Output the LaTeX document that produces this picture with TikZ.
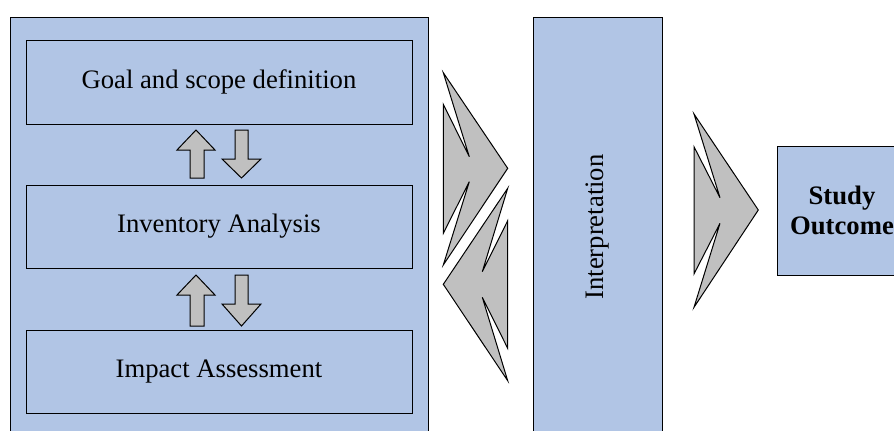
\documentclass[tikz,border=0pt]{standalone}
\usepackage{fontspec}
\setmainfont{Liberation Serif}
\definecolor{boxblue}{RGB}{177,197,229}
\definecolor{arrgrey}{RGB}{192,192,192}
\begin{document}
\begin{tikzpicture}[x=0.75pt,y=-0.75pt,line width=0.75pt,
  box/.style={draw=black,fill=boxblue,inner sep=0pt,
    font=\fontsize{20}{22.5}\selectfont},
  arr/.style={draw=black,fill=arrgrey,line join=miter},
  chev/.style={draw=black,fill=arrgrey,line join=miter}]
\useasboundingbox (0,0) rectangle (894,430);
\begin{scope}
\clip (0,0) rectangle (894,430);
% outer LCA frame
\node[box,minimum width=313.5pt,minimum height=315pt] (lca) at (219,227) {};
\node[box,minimum width=289.5pt,minimum height=63pt] (goal) at (219,82) {Goal and scope definition};
\node[box,minimum width=289.5pt,minimum height=62.25pt] (inv) at (219,226.5) {Inventory Analysis};
\node[box,minimum width=289.5pt,minimum height=62.25pt] (imp) at (219,371.5) {Impact Assessment};
% interpretation
\node[box,minimum width=96.4pt,minimum height=315pt] (interp) at (597.75,227) {};
\node[font=\fontsize{20}{22.5}\selectfont,rotate=90,inner sep=0pt] (interptext) at (interp.center) {Interpretation};
% study outcome
\node[box,minimum width=97.5pt,minimum height=96.75pt,align=center,
  font=\fontsize{20}{22.5}\selectfont\bfseries] (out) at (842,210.5) {Study\\Outcome};
% up/down arrows between goal and inventory
\draw[arr] (196,130) -- (215,150) -- (204,150) -- (204,178) -- (190,178) -- (190,150) -- (177,150) -- cycle;
\draw[arr] (235,130) -- (248,130) -- (248,159) -- (261,159) -- (241.5,178) -- (222,159) -- (235,159) -- cycle;
% up/down arrows between inventory and impact
\draw[arr] (196,275) -- (215,295) -- (204,295) -- (204,326) -- (190,326) -- (190,295) -- (177,295) -- cycle;
\draw[arr] (235,275) -- (248,275) -- (248,304) -- (261,304) -- (241.5,326) -- (222,304) -- (235,304) -- cycle;
% chevrons
\draw[chev] (443.3,72.7) -- (507.7,168.3) -- (443.3,265) -- (469.3,181.7) -- (443.3,233.3) -- (443.3,104.3) -- (469.3,156.7) -- cycle;
\draw[chev] (507.7,188.3) -- (443.3,284.3) -- (507.7,380.7) -- (482.3,297.3) -- (507.7,348.3) -- (507.7,220.7) -- (482.3,271.7) -- cycle;
\draw[chev] (694,114) -- (758.3,210) -- (694,307.3) -- (720,223.3) -- (694,274) -- (694,146.7) -- (720,197.7) -- cycle;
\end{scope}
\end{tikzpicture}
\end{document}
